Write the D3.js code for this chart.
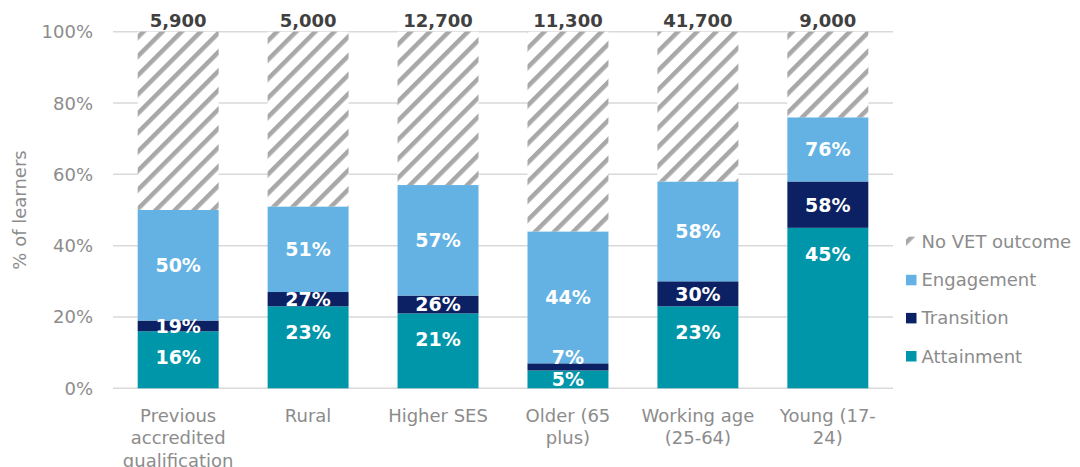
<!DOCTYPE html>
<html>
<head>
<meta charset="utf-8">
<script src="https://cdn.jsdelivr.net/npm/d3@7"></script>
<style>
  body { margin: 0; background: #fff; }
  svg { display: block; }
</style>
</head>
<body>
<div id="chart"></div>
<script>
// categories and cumulative shares (labels in the chart are cumulative)
var categories = ["Previous accredited qualification", "Rural", "Higher SES", "Older (65 plus)", "Working age (25-64)", "Young (17-24)"];
var catLines = [["Previous", "accredited", "qualification"], ["Rural"], ["Higher SES"], ["Older (65", "plus)"], ["Working age", "(25-64)"], ["Young (17-", "24)"]];
var attainment = [16, 23, 21, 5, 23, 45];
var transition = [19, 27, 26, 7, 30, 58];
var engagement = [50, 51, 57, 44, 58, 76];
var totals = ["5,900", "5,000", "12,700", "11,300", "41,700", "9,000"];
var yTicks = [0, 20, 40, 60, 80, 100];
var legendNames = ["No VET outcome", "Engagement", "Transition", "Attainment"];

var width = 1080, height = 467;
var margin = {left: 113, right: 187, top: 31.7, bottom: 78.7};
var font = "DejaVu Sans, Verdana, sans-serif";
var grey = "#8c8c8c";

var colours = {
    attainment: "#0096a9",
    transition: "#0b2163",
    engagement: "#63b2e3",
    hatch: "#a8a8a8"
};

var svg = d3.select("#chart")
    .append("svg")
    .attr("width", width)
    .attr("height", height);

// diagonal hatch for "No VET outcome"
var defs = svg.append("defs");
var pat = defs.append("pattern")
    .attr("id", "hatch")
    .attr("patternUnits", "userSpaceOnUse")
    .attr("width", 13.5)
    .attr("height", 13.5)
    .attr("patternTransform", "rotate(45)");
pat.append("rect").attr("width", 13.5).attr("height", 13.5).attr("fill", "#fff");
pat.append("rect").attr("x", 0).attr("width", 4.5).attr("height", 13.5).attr("fill", colours.hatch);

var x = d3.scaleBand()
    .domain(categories)
    .range([margin.left, width - margin.right])
    .paddingInner(0.377)
    .paddingOuter(0.19);

var y = d3.scaleLinear()
    .domain([0, 100])
    .range([height - margin.bottom, margin.top]);

// gridlines
svg.append("g")
    .selectAll("line")
    .data(yTicks)
    .enter().append("line")
    .attr("x1", margin.left)
    .attr("x2", width - margin.right)
    .attr("y1", function(d) { return y(d); })
    .attr("y2", function(d) { return y(d); })
    .attr("stroke", "#d9d9d9")
    .attr("stroke-width", 1.5);

// y tick labels
svg.append("g")
    .selectAll("text")
    .data(yTicks)
    .enter().append("text")
    .attr("x", 93)
    .attr("y", function(d) { return y(d) + 6.5; })
    .attr("text-anchor", "end")
    .attr("font-family", font)
    .attr("font-size", "18px")
    .attr("fill", grey)
    .text(function(d) { return d + "%"; });

// y axis title
svg.append("text")
    .attr("transform", "translate(26," + y(50) + ") rotate(-90)")
    .attr("text-anchor", "middle")
    .attr("font-family", font)
    .attr("font-size", "18px")
    .attr("fill", grey)
    .text("% of learners");

var bars = svg.append("g");
var labels = svg.append("g");

function valueLabel(cx, cy, txt) {
    labels.append("text")
        .attr("x", cx)
        .attr("y", cy + 7)
        .attr("text-anchor", "middle")
        .attr("font-family", font)
        .attr("font-weight", "bold")
        .attr("font-size", "19px")
        .attr("fill", "#fff")
        .text(txt);
}

categories.forEach(function(c, i) {
    var segs = [
        {lo: 0, hi: attainment[i], fill: colours.attainment},
        {lo: attainment[i], hi: transition[i], fill: colours.transition},
        {lo: transition[i], hi: engagement[i], fill: colours.engagement},
        {lo: engagement[i], hi: 100, fill: "url(#hatch)"}
    ];
    segs.forEach(function(s) {
        bars.append("rect")
            .attr("x", x(c))
            .attr("width", x.bandwidth())
            .attr("y", y(s.hi))
            .attr("height", y(s.lo) - y(s.hi))
            .attr("fill", s.fill);
    });

    var cx = x(c) + x.bandwidth() / 2;
    // attainment label sits near the top of its segment, the rest are centred
    var yAtt = Math.min((y(0) + y(attainment[i])) / 2, y(attainment[i]) + 26);
    var yTr = Math.min((y(attainment[i]) + y(transition[i])) / 2, yAtt - 22);
    var yEn = (y(transition[i]) + y(engagement[i])) / 2;
    valueLabel(cx, yAtt, attainment[i] + "%");
    valueLabel(cx, yTr, transition[i] + "%");
    valueLabel(cx, yEn, engagement[i] + "%");

    // totals above bar
    labels.append("text")
        .attr("x", cx)
        .attr("y", y(100) - 5)
        .attr("text-anchor", "middle")
        .attr("font-family", font)
        .attr("font-weight", "bold")
        .attr("font-size", "18px")
        .attr("fill", "#404040")
        .text(totals[i]);

    // category labels
    var t = svg.append("text")
        .attr("text-anchor", "middle")
        .attr("font-family", font)
        .attr("font-size", "18px")
        .attr("fill", grey);
    catLines[i].forEach(function(l, j) {
        t.append("tspan")
            .attr("x", cx)
            .attr("y", 421.5 + j * 22.5)
            .text(l);
    });
});

// legend
var legendFill = ["url(#hatch)", colours.engagement, colours.transition, colours.attainment];
var legend = svg.append("g");
legendNames.forEach(function(n, i) {
    var ly = 241.7 + i * 38.1;
    legend.append("rect")
        .attr("x", 906)
        .attr("y", ly - 5)
        .attr("width", 10.5)
        .attr("height", 10.5)
        .attr("fill", legendFill[i]);
    legend.append("text")
        .attr("x", 921.5)
        .attr("y", ly + 6.5)
        .attr("font-family", font)
        .attr("font-size", "18px")
        .attr("fill", grey)
        .text(n);
});
</script>
</body>
</html>
